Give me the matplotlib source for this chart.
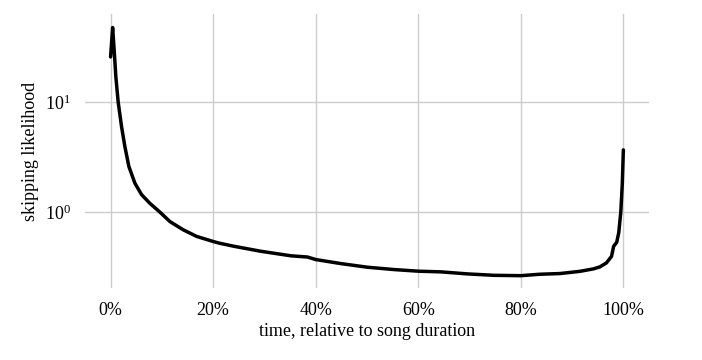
import matplotlib
matplotlib.use("Agg")
import matplotlib.pyplot as plt
from matplotlib.ticker import FixedLocator, PercentFormatter

plt.rcParams['font.family'] = ['Liberation Serif', 'DejaVu Serif']
plt.rcParams['mathtext.fontset'] = 'custom'
plt.rcParams['mathtext.rm'] = 'Liberation Serif'
plt.rcParams['mathtext.it'] = 'Liberation Serif:italic'

# time as fraction of song duration
time_frac = [0.000, 0.004, 0.007, 0.0103, 0.0148, 0.0214, 0.0279, 0.0357,
             0.0474, 0.0604, 0.0766, 0.096, 0.1156, 0.1415, 0.168, 0.200,
             0.213, 0.241, 0.293, 0.352, 0.384, 0.400, 0.449, 0.501, 0.553,
             0.600, 0.644, 0.696, 0.748, 0.800, 0.837, 0.876, 0.915, 0.941,
             0.954, 0.967, 0.977, 0.981, 0.987, 0.991, 0.995, 0.998, 1.000]
likelihood = [25.7, 47.5, 29.6, 16.9, 10.0, 5.97, 3.93, 2.59,
              1.83, 1.44, 1.2, 1.0, 0.82, 0.69, 0.60, 0.54,
              0.52, 0.488, 0.44, 0.40, 0.39, 0.37, 0.34, 0.315, 0.30,
              0.29, 0.286, 0.274, 0.266, 0.264, 0.272, 0.276, 0.289, 0.304,
              0.317, 0.345, 0.396, 0.488, 0.53, 0.649, 1.0, 1.84, 3.67]

x_ticks = [0.0, 0.2, 0.4, 0.6, 0.8, 1.0]
y_ticks = [1.0, 10.0]

fig = plt.figure(figsize=(7.02, 3.6), dpi=100)
ax = fig.add_axes([0.121, 0.2, 0.8035, 0.761])

ax.plot(time_frac, likelihood, color='black', linewidth=2.5,
        solid_joinstyle='round', solid_capstyle='round', zorder=3)
ax.set_yscale('log')
ax.set_xlim(-0.05, 1.05)
ax.set_ylim(0.204, 63)

ax.xaxis.set_major_locator(FixedLocator(x_ticks))
ax.xaxis.set_major_formatter(PercentFormatter(1.0, decimals=0))
ax.yaxis.set_major_locator(FixedLocator(y_ticks))
ax.yaxis.set_minor_locator(FixedLocator([]))
ax.set_yticklabels([r'$10^{0}$', r'$10^{1}$'])

ax.grid(True, color='#cccccc', linewidth=1.0)
ax.set_axisbelow(True)
for s in ax.spines.values():
    s.set_visible(False)
ax.tick_params(axis='both', which='both', length=0, labelsize=13, pad=10)

ax.set_xlabel('time, relative to song duration', fontsize=13, labelpad=3)
ax.set_ylabel('skipping likelihood', fontsize=13, labelpad=4)

fig.savefig('out.png', dpi=100)
